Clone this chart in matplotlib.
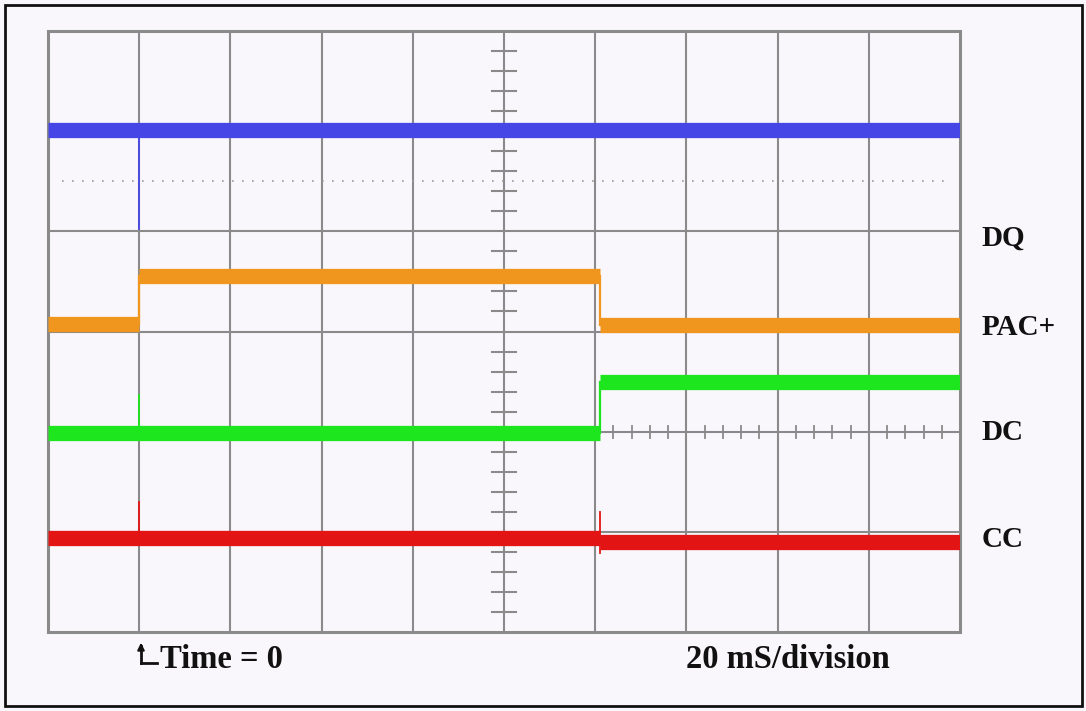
import numpy as np
import matplotlib.pyplot as plt
from matplotlib.patches import Rectangle

# time axis in ms (20 ms/division), trigger at t = 0
t_edges = [-20, 0, 101, 180]

# trace levels in divisions (0 = bottom of the screen), one per segment
dq_levels = [5.01, 5.01, 5.01]
pac_levels = [3.07, 3.55, 3.06]
dc_levels = [1.99, 1.99, 2.50]
cc_levels = [0.94, 0.94, 0.90]

# glitches: (time, from, to)
dq_spikes = [(0, 5.01, 4.02)]
dc_spikes = [(0, 1.99, 2.37)]
cc_spikes = [(0, 0.94, 1.30), (101, 0.79, 1.20)]

labels = ["DQ", "PAC+", "DC", "CC"]
label_y = [3.93, 3.04, 1.99, 0.92]

colors = {"DQ": "#4646e6", "PAC+": "#f0961e", "DC": "#1ee61e", "CC": "#e31414"}
bg = "#f9f7fb"
grid_col = "#8a8a8a"

fig = plt.figure(figsize=(10.86, 7.11), dpi=100)
fig.patch.set_facecolor(bg)
ax = fig.add_axes([48 / 1086, 79 / 711, 912 / 1086, 601 / 711])
ax.set_facecolor(bg)
ax.set_xlim(-20, 180)
ax.set_ylim(0, 6)
ax.set_xticks([])
ax.set_yticks([])
for s in ax.spines.values():
    s.set_color(grid_col)
    s.set_linewidth(2.2)

# graticule
for x in np.arange(-20, 181, 20)[1:-1]:
    ax.axvline(x, color=grid_col, lw=1.5, zorder=1)
for y in range(1, 6):
    ax.axhline(y, color=grid_col, lw=1.5, zorder=1)
ax.plot([-17, 177], [4.5, 4.5], color="#9a9a9a", lw=1.2, ls=(0, (1, 5)), zorder=1)

# minor ticks on centre vertical line
for y in np.arange(0.2, 6, 0.2):
    if abs(y - round(y)) > 0.05:
        ax.plot([77.4, 82.6], [y, y], color=grid_col, lw=1.5, zorder=1)
# minor ticks on the DC reference line
for x in np.arange(104, 180, 4):
    if abs(x % 20) > 0.5:
        ax.plot([x, x], [1.94, 2.06], color=grid_col, lw=1.3, zorder=1)


def draw_trace(levels, color, spikes):
    # merge runs of equal level so the band has no seams
    start = 0
    for i in range(1, len(levels) + 1):
        if i == len(levels) or levels[i] != levels[start]:
            ax.plot([t_edges[start], t_edges[i]], [levels[start]] * 2, color=color,
                    lw=11, solid_capstyle="butt", zorder=3)
            if i < len(levels):
                ax.plot([t_edges[i], t_edges[i]], [levels[i - 1], levels[i]],
                        color=color, lw=1.6, zorder=3)
            start = i
    for t, a, b in spikes:
        ax.plot([t, t], [a, b], color=color, lw=1.3, zorder=3)


draw_trace(dq_levels, colors["DQ"], dq_spikes)
draw_trace(pac_levels, colors["PAC+"], [])
draw_trace(dc_levels, colors["DC"], dc_spikes)
draw_trace(cc_levels, colors["CC"], cc_spikes)

font = dict(family=["Liberation Serif", "DejaVu Serif"], weight="bold", color="#111111")
for lab, y in zip(labels, label_y):
    ax.text(184.8, y, lab, fontsize=21, va="center", ha="left", **font)

# trigger marker and footer text
fig.text(160 / 1086, 1 - 659 / 711, "Time = 0", fontsize=23.5, va="center", ha="left", **font)
fig.text(686 / 1086, 1 - 660 / 711, "20 mS/division", fontsize=23.5, va="center", ha="left", **font)
fig.add_artist(plt.Line2D([141 / 1086, 141 / 1086], [1 - 663 / 711, 1 - 646 / 711],
                          color="#111111", lw=2))
fig.add_artist(plt.Line2D([141 / 1086, 157 / 1086], [1 - 663 / 711, 1 - 663 / 711],
                          color="#111111", lw=2))
ax.annotate("", xy=(141 / 1086, 1 - 640 / 711), xytext=(141 / 1086, 1 - 650 / 711),
            xycoords="figure fraction",
            arrowprops=dict(arrowstyle="-|>", color="#111111", lw=1.5, mutation_scale=10))

# outer frame
fig.add_artist(Rectangle((5 / 1086, 5 / 711), 1077 / 1086, 701 / 711,
                         transform=fig.transFigure, fill=False, ec="#111111", lw=2))

fig.savefig("out.png", dpi=100, facecolor=bg)
